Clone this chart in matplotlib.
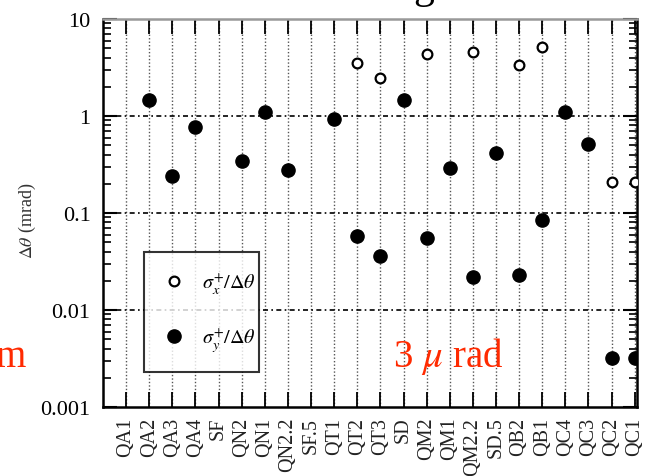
import numpy as np
import matplotlib
matplotlib.use("Agg")
import matplotlib.pyplot as plt
from matplotlib.ticker import LogLocator, NullFormatter

nan = np.nan
categories = ['QA1', 'QA2', 'QA3', 'QA4', 'SF', 'QN2', 'QN1', 'QN2.2', 'SF.5', 'QT1',
              'QT2', 'QT3', 'SD', 'QM2', 'QM1', 'QM2.2', 'SD.5', 'QB2', 'QB1', 'QC4',
              'QC3', 'QC2', 'QC1']
sigma_x = [nan, nan, nan, nan, nan, nan, nan, nan, nan, nan,
           3.5, 2.45, nan, 4.35, nan, 4.6, nan, 3.35, 5.1, nan,
           nan, 0.21, 0.21]
sigma_y = [nan, 1.45, 0.24, 0.77, nan, 0.34, 1.1, 0.28, nan, 0.93,
           0.058, 0.036, 1.45, 0.055, 0.29, 0.022, 0.42, 0.023, 0.084, 1.1,
           0.51, 0.0032, 0.0032]
ytick_vals = [0.001, 0.01, 0.1, 1, 10]
ytick_labels = ['0.001', '0.01', '0.1', '1', '10']

plt.rcParams['font.family'] = ['Liberation Serif', 'DejaVu Serif']
plt.rcParams['mathtext.fontset'] = 'stix'

fig = plt.figure(figsize=(6.45, 4.77), dpi=100)
ax = fig.add_axes([103 / 645, 1 - 408 / 477, (637 - 103) / 645, (408 - 20) / 477])

x = np.arange(len(categories))
ax.plot(x, sigma_x, linestyle='none', marker='o', markersize=7, markerfacecolor='white',
        markeredgecolor='black', markeredgewidth=1.6, label=r'$\sigma_x^{+}/\Delta\theta$', zorder=5)
ax.plot(x, sigma_y, linestyle='none', marker='o', markersize=9.5, markerfacecolor='black',
        markeredgecolor='black', label=r'$\sigma_y^{+}/\Delta\theta$', zorder=5)

ax.set_yscale('log')
ax.set_ylim(0.001, 10)
ax.set_xlim(-1, 22.1)

ax.set_yticks(ytick_vals)
ax.set_yticklabels(ytick_labels)
ax.yaxis.set_minor_locator(LogLocator(base=10, subs=np.arange(2, 10), numticks=20))
ax.yaxis.set_minor_formatter(NullFormatter())

ax.set_xticks(x)
ax.set_xticklabels(categories, rotation=90, fontsize=14.5, color='#222222')

ax.tick_params(axis='y', which='major', direction='in', length=10, width=1.5,
               left=True, right=True, labelsize=16, pad=9)
ax.tick_params(axis='y', which='minor', direction='in', length=6, width=1.2,
               left=True, right=True)
ax.tick_params(axis='x', which='major', direction='in', length=11, width=1.3,
               bottom=True, top=True, pad=7)

for xi in x:
    ax.axvline(xi, color='#555555', linestyle=(0, (1, 1.5)), linewidth=1.0, zorder=1)
for yv in [0.01, 0.1, 1]:
    ax.axhline(yv, color='black', linestyle=(0, (3, 2, 1, 2)), linewidth=1.2, zorder=1)

for s in ax.spines.values():
    s.set_linewidth(1.8)
ax.spines['top'].set_color('#999999')

ax.set_ylabel(r'$\Delta\theta$ (mrad)', fontsize=13, color='#333333')
ax.yaxis.set_label_coords((38 - 103) / 534, (408 - 221) / 388)

leg = ax.legend(loc='lower left', bbox_to_anchor=((144 - 103) / 534, (408 - 373) / 388,
                (259 - 144) / 534, (373 - 273) / 388), mode='expand',
                fontsize=14.5, frameon=True, fancybox=False, labelspacing=1.5,
                handletextpad=0.8, borderpad=0.9, handlelength=1.2, borderaxespad=0)
leg.get_frame().set_edgecolor('black')
leg.get_frame().set_linewidth(1.5)
leg.set_zorder(10)

fig.text(393 / 645, 1 - 367 / 477, r'3 $\mu$ rad', color='#ff2a00', fontsize=28,
         ha='left', va='baseline')
fig.text(26 / 645, 1 - 367 / 477, 'm', color='#ff2a00', fontsize=28,
         ha='right', va='baseline')
fig.text(424 / 645, 1 + 2 / 477, 'g', color='black', fontsize=30,
         ha='center', va='baseline')

fig.savefig('out.png', dpi=100)
